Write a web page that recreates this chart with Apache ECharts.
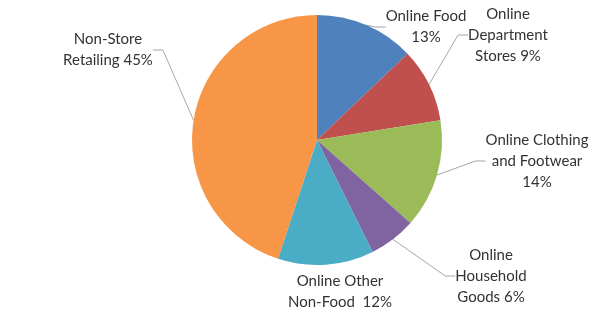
<!DOCTYPE html>
<html>
<head>
<meta charset="utf-8">
<script src="https://cdn.jsdelivr.net/npm/echarts@6/dist/echarts.min.js"></script>
<style>html,body{margin:0;padding:0;background:#fff}#c{width:600px;height:316px}</style>
</head>
<body>
<div id="c"></div>
<script>
var categories = ["Online Food", "Online Department Stores", "Online Clothing and Footwear", "Online Household Goods", "Online Other Non-Food", "Non-Store Retailing"];
var values = [12.9, 9.6, 14.1, 6.1, 12.4, 45.0];
var percentLabels = ["13%", "9%", "14%", "6%", "12%", "45%"];
var labelTexts = ["Online Food\n13%", "Online\nDepartment\nStores 9%", "Online Clothing\nand Footwear\n14%", "Online\nHousehold\nGoods 6%", "Online Other\nNon-Food  12%", "Non-Store\nRetailing 45%"];
var colors = ["#4F81BD", "#C0504D", "#9BBB59", "#8064A2", "#4BACC6", "#F79646"];
var labelPos = [[426, 27], [508, 35], [537, 161], [491, 276], [340, 292], [108, 50]];
var showLine = [true, true, true, true, false, true];

var chart = echarts.init(document.getElementById('c'), null, {renderer: 'canvas'});
var data = categories.map(function (c, i) {
  return {
    name: c, value: values[i],
    itemStyle: {color: colors[i]},
    label: {formatter: labelTexts[i]},
    labelLine: {show: showLine[i]}
  };
});
chart.setOption({
  animation: false,
  series: [{
    type: 'pie',
    center: [317, 140],
    radius: 125,
    startAngle: 90,
    clockwise: true,
    data: data,
    itemStyle: {borderWidth: 0},
    label: {
      show: true, position: 'outside',
      fontFamily: 'Lato', fontSize: 15, color: '#333333',
      lineHeight: 21, align: 'center'
    },
    labelLine: {show: true, length: 15, length2: 10, lineStyle: {color: '#a6a6a6', width: 1}},
    labelLayout: function (p) {
      var pos = labelPos[p.dataIndex];
      return {x: pos[0], y: pos[1], align: 'center', verticalAlign: 'middle'};
    }
  }]
});
</script>
</body>
</html>
